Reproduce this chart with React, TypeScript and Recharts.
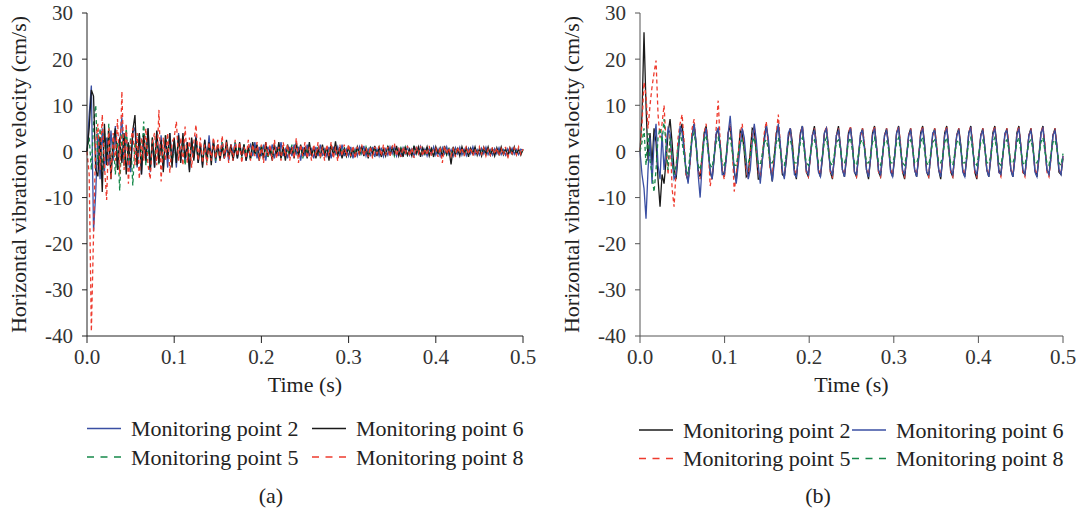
import { LineChart, Line, XAxis, YAxis } from "recharts";

// time axis, shared by both panels
const X_TICKS = [0, 0.1, 0.2, 0.3, 0.4, 0.5];
const Y_TICKS = [-40, -30, -20, -10, 0, 10, 20, 30];

// sampling step of the digitised records
const A_STEP = 0.0025;
const B_STEP = 0.5 / 211;

// (a) horizontal vibration velocity, cm/s
const A_P2 = [
  0, 8, 14.3, -17.3, -9, 4, -6, 5, -4.3, 3, -3, 4.5, -2, 5.5, -3.5, 2, 7.4, -3, 4, -2.5,
  -4.5, 4, 5.2, -3.5, 3.5, -5, 4, -2.5, 5, -4.5, 2, -3.5, 4.5, -2, 3.5, -4, 3, -3.5, 4, -1.5,
  2.5, -3.5, 4, -2, 3, -2.5, 2, -4, 2.5, -1.5, 3.5, -2.5, 1.5, -3, 2.5, -2, 3.5, -1.5, 2, -2.5,
  1.5, -1, 2, -1.5, 1, -2, 1.5, -0.5, 2, -1.5, 1, -1, 1.5, -2, 0.5, 1.5, -1, 2, -1.5, 1,
  -1, 1.5, -2, 1, -0.5, 1.5, -1.5, 1, -1, 2, -1, 0.5, -1.5, 1, -1, 1.5, -0.5, 1, -2, 1,
  -1, 1.5, -1, 0.5, -1.5, 1, -1, 1.5, -1, 0.5, -1, 1, -1.5, 1, -0.5, 1, -1, 1.5, -1, 0.5,
  -1, 1, -1.5, 0.5, -1, 1, -0.5, 1.2, -1, 0.5, -0.8, 1, -1.2, 0.5, -1, 0.8, -1.1, 0.5, -0.8, 1,
  -0.5, 1, -1, 0.5, -1.2, 0.8, -0.5, 1, -0.8, 0.5, -1, 0.8, -0.5, 1.1, -0.8, 0.5, -1, 0.7, -0.5, 1,
  -0.8, 0.5, -1, 0.8, -0.5, 1, -0.7, 0.4, -1, 0.8, -0.5, 0.9, -0.8, 0.5, -0.9, 0.7, -0.5, 1, -0.7, 0.4,
  -0.8, 0.7, -0.5, 0.9, -0.7, 0.4, -0.8, 0.6, -0.5, 0.8, -0.7, 0.4, -0.8, 0.6, -0.4, 0.7, -0.6, 0.4, -0.7, 0.5,
  0.2,
];
const A_P5 = [
  0, 3, -4, 6, 10, -3, 5, -5, 4, -2, 6, -4, 3, -5, 2, -8.5, 4, -3, 5, -2,
  3, -7.4, 2, -3, 4, -2, 6.5, -3, 2, -4, 3, -1.5, 2.5, -3, 2, -2, 3.5, -1, 2, -2.5,
  1.5, -2, 2.5, -1, 2, -3, 1.5, -1.5, 2, -1, 2.5, -2, 1, -1.5, 2, -2.5, 1, -1, 1.5, -2,
  1, -1.5, 2, -1, 1.5, -1, 0.5, -1.5, 2, -1, 1, -1.5, 1.5, -0.5, 1, -2, 1.5, -1, 1, -1.5,
  1.5, -1, 0.5, -1.5, 1, -1, 1.5, -0.5, 1, -1.5, 1, -1, 0.5, -1, 1.5, -1, 1, -0.5, 1, -1.5,
  1, -0.5, 1.5, -1, 0.5, -1, 1, -1.5, 1, -0.5, 1, -1, 1.5, -1, 0.5, -1, 1, -0.5, 1, -1,
  0.5, -1, 1, -0.5, 0.8, -1, 0.5, -0.8, 1, -0.5, 0.8, -1, 0.6, -0.5, 1, -0.8, 0.5, -0.6, 1, -0.5,
  0.8, -1, 0.5, -0.6, 0.8, -0.5, 1, -0.8, 0.4, -0.6, 1, -0.5, 0.6, -0.8, 0.5, -0.6, 0.9, -0.4, 0.6, -0.8,
  0.5, -0.6, 0.8, -0.4, 0.6, -0.8, 0.5, -0.6, 0.7, -0.4, 0.8, -0.5, 0.4, -0.7, 0.6, -0.5, 0.8, -0.4, 0.5, -0.6,
  0.7, -0.4, 0.5, -0.7, 0.6, -0.4, 0.8, -0.5, 0.4, -0.6, 0.7, -0.4, 0.5, -0.6, 0.4, -0.5, 0.7, -0.4, 0.5, -0.6,
  0.3,
];
const A_P6 = [
  0, 5, 13.3, 12, -4, -5.4, 3, -8.8, 6, -3, 4.5, -6, 2, 5, -4, 3, -2.5, 4, -5, 2,
  -3.5, 4.5, 7.9, -3, 4, -5, 3.5, -2, 5, -4, 3, -3.5, 4.5, -2.5, 2.5, -4.5, 3.5, -1.5, 4, -3.5,
  3, -2.5, 3.5, -2.5, 4, -1.5, 2, -4.5, 3, -2, 3, -2.5, 1.5, -3.5, 2.5, -1.5, 2, -3, 2.5, -1.5,
  1.5, -2, 1, -1.5, 2.5, -1, 1.5, -2, 1, -1.5, 2, -1, 1.5, -2, 1, -1.5, 2, -0.5, 1.5, -2,
  1, -1.5, 2, -1, 0.5, -2, 1.5, -1, 2, -1.5, 1, -2, 1.5, -0.5, 1, -1.5, 2, -1, 1.5, -1,
  1, -1.5, 2, -1, 1, -1.5, 0.5, -1, 1.5, -1, 1, -2, 1.5, -1, 2.2, -1, 1, -1.5, 0.5, -1,
  1.2, -1, 0.5, -1.2, 1, -0.5, 1.2, -1, 0.8, -1.5, 1, -0.5, 1.2, -1, 0.8, -1.2, 0.5, -1, 1.2, -0.8,
  1, -0.5, 1.2, -1, 0.5, -1.2, 1, -0.8, 0.5, -1, 1.2, -0.5, 1, -1.2, 0.8, -0.5, 1, -1, 0.6, -1.2,
  1, -0.5, 0.8, -1, 1.2, -0.6, 0.5, -2.8, 1, -0.8, 0.6, -1, 1, -0.5, 0.8, -1.2, 0.7, -0.5, 1, -0.8,
  0.6, -1, 0.9, -0.5, 1, -0.8, 0.5, -1, 0.8, -0.6, 1, -0.7, 0.5, -0.9, 0.8, -0.5, 1, -0.7, 0.5, -0.8,
  0.5,
];
const A_P8 = [
  0, -5, -39, -18, 2, 6, -4, 8, -3, -10.5, 5, -6, 4, -2, 7, -5, 13, -4, 6, -7,
  2, 5, -3, 4, -6, 3, -2, 5, -3, -6, 2, 4, -3, 9, -6.5, 3, -2, 4, -4.6, 2,
  3, 6.5, -2, 3, -3, 5.4, -2.5, 3, -3.5, 2, 5.8, -2, 3, -2.5, 1.5, -3, 2, -2, 3, -1.5,
  2.5, -2, 3.4, -1.5, 2, -2.5, 1.5, -2, 2.5, -1, 2, -2.5, 1, -1.5, 2.5, -2, 1.5, -1, 2, -2,
  1.5, -2.5, 2, -1, 1.5, -2, 2.5, -1.5, 1, -2, 2, -1, 1.5, -2, 1, -1.5, 2.9, -2.5, 1.5, -1,
  2, -1.5, 1, -2, 1.5, -1, 2, -1.5, 1, -2, 1.5, -1, 2, -1.5, 1, -2.1, 1.5, -1, 1.5, -1,
  1.5, -1, 1.2, -1.5, 1, -0.8, 1.5, -1, 0.8, -1.2, 1, -1.5, 1, -0.5, 1.2, -1, 1.5, -0.8, 1, -1.2,
  1, 1.8, -1, 0.8, -1.2, 1, -0.6, 1.2, -1, 0.8, -1.4, 1, -0.5, 1.2, -1, 0.6, -0.8, 1.2, -1, 0.5,
  0.8, -1.2, 1, -2.5, 1.2, -0.6, 0.8, -1, 0.6, -1.2, 1, -0.5, 0.8, -1, 1.2, -0.6, 0.8, -1, 0.5, -0.8,
  1, -0.6, 0.8, -1, 0.5, -0.8, 1, -0.6, 0.8, -1, 0.6, -0.8, 1, -1.6, 0.7, -0.5, 0.8, -0.7, 1, -0.6,
  0.5,
];

// (b) horizontal vibration velocity, cm/s
const B_P2 = [
  0, 8, 25.8, 10, -2, 4, -3, 5, 2, -6, -12, -5,
  -7, -2, 4, 7, 2, -4, -6, -1, 4.5, 6, 1, -5,
  -6.5, -2, 3.5, 6, 1.5, -4, -5.5, -1, 4, 5.5, 1, -4.5,
  -6, -1.5, 3.5, 5, 1.5, -4, -5.5, -1, 4, 5.5, 1, -4.5,
  -6.5, -1, 4.5, 4, 0, -5.5, -5, 0, 5, 4.5, -0.5, -6,
  -6, -2, 3, 6, 2, -3.5, -6.5, -1, 4, 5.5, 1, -5,
  -5.5, -2, 3, 5, 2, -4, -6, -1, 4, 5.5, 0.5, -4.5,
  -5.5, -1, 3.5, 5.5, 1.5, -4, -5.5, -1.5, 4, 5, 1, -4.5,
  -6, -1, 3.5, 5.5, 1, -4, -5.5, -1.5, 4, 5.2, 1.5, -4.5,
  -5.5, -1, 3.5, 5, 1, -4, -6, -1.5, 4, 5.5, 1, -4.5,
  -5.5, -1, 3.5, 5, 1.5, -4, -5.5, -1.5, 4, 5.5, 1, -4.5,
  -6, -1, 3.5, 5, 1, -4, -5.5, -1.5, 4, 5.5, 1.5, -4.5,
  -5.5, -1, 3.5, 5, 1, -4, -6, -1.5, 4, 5.5, 1, -4.5,
  -5.5, -1, 3.5, 5, 1.5, -4, -5.5, -1.5, 4, 5.5, 1, -4.5,
  -6, -1, 3.5, 5, 1, -4, -5.5, -1.5, 4, 5.5, 1.5, -4,
  -5, -1, 3.5, 5, 1, -4, -5.5, -1.5, 4, 5.5, 1, -4.5,
  -5, -1, 3.5, 5, 1.5, -4, -5.5, -1.5, 4, 5.5, 1, -4,
  -5, -1, 3.5, 5, 1, -4.5, -5, -1.5,
];
const B_P5 = [
  0, 6, 15, 12, 5, 10, 14, 17, 19.7, 8, 3, 6,
  10, 2, -5, 4, -8, -12, -4, 3, 6, 8, 2, -5,
  -6, -3, 5, 7, 1, -4, -6, -1, 4, 6, 1, -7.5,
  -5, -1, 5, 11, 2, -4, -6, -2, 4, 6, 1, -8.7,
  -5, -1, 4, 6, 1, -4, -6, -1, 3.5, 5.5, 1, -4.5,
  -5.5, -1.5, 4, 6.5, 1, -4, -5, -1, 4, 8, 1.5, -4.5,
  -5.5, -1, 3.5, 5, 1, -4, -5, -1.5, 4, 5.5, 1, -4.5,
  -5.5, -1, 3.5, 5, 1.5, -4, -5, -1, 4, 5.5, 1, -4.5,
  -5.5, -1.5, 3.5, 5, 1, -4, -5, -1, 4, 5.5, 1, -4.5,
  -5.5, -1, 3.5, 5, 1.5, -4, -5, -1.5, 4, 5.5, 1, -4.5,
  -5.5, -1, 3.5, 5, 1, -4, -5, -1, 4, 5.5, 1.5, -4.5,
  -5.5, -1.5, 3.5, 5, 1, -4, -5, -1, 4, 5.5, 1, -4.5,
  -5.5, -1, 3.5, 5, 1.5, -4, -5, -1.5, 4, 5.5, 1, -4.5,
  -5.5, -1, 3.5, 5, 1, -4, -5, -1, 4, 5.5, 1.5, -4.5,
  -5.5, -1.5, 3.5, 5, 1, -4, -5, -1, 4, 5.5, 1, -4.5,
  -5.5, -1, 3.5, 5, 1.5, -4, -5, -1.5, 4, 5.5, 1, -4.5,
  -5.5, -1, 3.5, 5, 1, -4, -5, -1, 4, 5.5, 1.5, -4.5,
  -5.5, -1.5, 3.5, 5, 1, -4, -5, -1,
];
const B_P6 = [
  0, -5, -8, -14.6, -4, 3, -7, 2, 6, -3, -6, 4,
  -4, 1, 5, 4, -2, -6, -5, 0, 5.5, 4, 0, -4,
  -7, -2, 3, 6, 2, -5, -10, -3, 3, 5, 0, -4,
  -6, -1, 4, 5, 1, -5, -5, -2, 4, 7.7, 2, -4,
  -7, -3, 1, 5, 3, -2, -6, -4, 2, 6, 2.5, -3,
  -7, -2, 2, 5.5, 3, -3, -6.5, -2.5, 3, 6, 1.5, -4,
  -6, -1, 4, 5, 0, -5, -5.5, -1.5, 3.5, 5.5, 1, -4,
  -5, -1, 3.5, 4.5, 1, -4.5, -5.5, -1, 4, 5, 0.5, -4,
  -5, -1.5, 3.5, 4.5, 1, -4, -5.5, -1, 3.5, 5, 1, -4.5,
  -5, -1, 4, 4.5, 0.5, -4, -5.5, -1.5, 3.5, 5, 1, -4,
  -5, -1, 3.5, 4.5, 1, -4.5, -5.5, -1, 4, 5, 0.5, -4,
  -5, -1.5, 3.5, 4.5, 1, -4, -5.5, -1, 3.5, 5, 1, -4.5,
  -5, -1, 4, 4.5, 0.5, -4, -5.5, -1.5, 3.5, 5, 1, -4,
  -5, -1, 3.5, 4.5, 1, -4.5, -5.5, -1, 4, 5, 0.5, -4,
  -5, -1.5, 3.5, 4.5, 1, -4, -5.5, -1, 3.5, 5, 1, -4.5,
  -5, -1, 4, 4.5, 0.5, -4, -5.5, -1.5, 3.5, 5, 1, -4,
  -5, -1, 3.5, 4.5, 1, -4.5, -5.5, -1, 4, 5, 0.5, -4,
  -5, -1.5, 3.5, 4.5, 1, -4, -5, -1,
];
const B_P8 = [
  0, 2, 5, -3, 4, -2, -5, -8.8, -4, 3, 5, 2,
  7, 1, -4, 3, -2, -5, -3, 1, 4, 2, -1, -4,
  -5, 0, 3, 4, 1, -3, -4, -1, 2.5, 3.5, 0, -3,
  -3.5, -0.5, 2, 3, 0.5, -2.5, -3, -1, 2.5, 3, 0, -3,
  -3, -0.5, 2, 2.5, 0.5, -2.5, -2.5, -1, 2, 3, 0, -2.5,
  -3, -0.5, 2, 2.5, 0.5, -2.5, -2.5, -1, 2, 3, 0, -2.5,
  -3, -0.5, 2, 2.5, 0.5, -2.5, -2.5, -1, 2, 3, 0, -2.5,
  -3, -0.5, 2, 2.5, 0.5, -2.5, -2.5, -1, 2, 3, 0, -2.5,
  -3, -0.5, 2, 2.5, 0.5, -2.5, -2.5, -1, 2, 3, 0, -2.5,
  -3, -0.5, 2, 2.5, 0.5, -2.5, -2.5, -1, 2, 3, 0, -2.5,
  -3, -0.5, 2, 2.5, 0.5, -2.5, -2.5, -1, 2, 3, 0, -2.5,
  -3, -0.5, 2, 2.5, 0.5, -2.5, -2.5, -1, 2, 3, 0, -2.5,
  -3, -0.5, 2, 2.5, 0.5, -2.5, -2.5, -1, 2, 3, 0, -2.5,
  -3, -0.5, 2, 2.5, 0.5, -2.5, -2.5, -1, 2, 3, 0, -2.5,
  -3, -0.5, 2, 2.5, 0.5, -2.5, -2.5, -1, 2, 3, 0, -2.5,
  -3, -0.5, 2, 2.5, 0.5, -2.5, -2.5, -1, 2, 3, 0, -2.5,
  -3, -0.5, 2, 2.5, 0.5, -2.5, -2.5, -1, 2, 3, 0, -2.5,
  -3, -0.5, 2, 2.5, 0.5, -2.5, -3, -0.5,
];

const FONT = "Liberation Serif, DejaVu Serif, serif";
const BLUE = "#3a4fa3";
const BLACK = "#1a1a1a";
const GREEN = "#16894a";
const RED = "#ee3b2e";

interface SeriesDef {
  key: string;
  name: string;
  color: string;
  dashed: boolean;
}

const A_SERIES: SeriesDef[] = [
  { key: "p2", name: "Monitoring point 2", color: BLUE, dashed: false },
  { key: "p5", name: "Monitoring point 5", color: GREEN, dashed: true },
  { key: "p6", name: "Monitoring point 6", color: BLACK, dashed: false },
  { key: "p8", name: "Monitoring point 8", color: RED, dashed: true },
];
const B_SERIES: SeriesDef[] = [
  { key: "p2", name: "Monitoring point 2", color: BLACK, dashed: false },
  { key: "p5", name: "Monitoring point 5", color: RED, dashed: true },
  { key: "p6", name: "Monitoring point 6", color: BLUE, dashed: false },
  { key: "p8", name: "Monitoring point 8", color: GREEN, dashed: true },
];

function buildRows(step: number, cols: Record<string, number[]>) {
  const n = Math.max(...Object.values(cols).map((c) => c.length));
  return Array.from({ length: n }, (_, i) => {
    const row: Record<string, number | null> = { t: +(i * step).toFixed(6) };
    for (const k of Object.keys(cols)) row[k] = cols[k][i] ?? null;
    return row;
  });
}

const A_ROWS = buildRows(A_STEP, { p2: A_P2, p5: A_P5, p6: A_P6, p8: A_P8 });
const B_ROWS = buildRows(B_STEP, { p2: B_P2, p5: B_P5, p6: B_P6, p8: B_P8 });

const tickStyle = { fontSize: 21, fill: "#333", fontFamily: FONT };
const titleStyle = { fontSize: 22, fill: "#222", fontFamily: FONT };

interface PanelProps {
  left: number;
  width: number;
  right: number;
  rows: Record<string, number | null>[];
  series: SeriesDef[];
  axisColor: string;
}

function Panel({ left, width, right, rows, series, axisColor }: PanelProps) {
  return (
    <div style={{ position: "absolute", left, top: 0 }}>
      <LineChart width={width} height={400} data={rows} margin={{ top: 13, right, bottom: 0, left: 0 }}>
        <XAxis
          dataKey="t"
          type="number"
          domain={[0, 0.5]}
          ticks={X_TICKS}
          interval={0}
          tickFormatter={(v: number) => v.toFixed(1)}
          stroke={axisColor}
          tickSize={7}
          tickMargin={6}
          height={64}
          tick={tickStyle}
          label={{ value: "Time (s)", position: "insideBottom", offset: 8, style: titleStyle }}
        />
        <XAxis
          xAxisId="top"
          orientation="top"
          type="number"
          domain={[0, 0.5]}
          tick={false}
          tickLine={false}
          height={0}
          stroke={axisColor}
        />
        <YAxis
          type="number"
          domain={[-40, 30]}
          ticks={Y_TICKS}
          interval={0}
          width={87}
          stroke={axisColor}
          tickSize={5}
          tickMargin={9}
          tick={tickStyle}
          label={{
            value: "Horizontal vibration velocity (cm/s)",
            angle: -90,
            position: "insideLeft",
            offset: 18,
            style: { ...titleStyle, textAnchor: "middle" },
          }}
        />
        <YAxis
          yAxisId="right"
          orientation="right"
          type="number"
          domain={[-40, 30]}
          tick={false}
          tickLine={false}
          width={0}
          stroke={axisColor}
        />
        {series.map((s) => (
          <Line
            key={s.key}
            type="linear"
            dataKey={s.key}
            name={s.name}
            stroke={s.color}
            strokeWidth={1.3}
            strokeDasharray={s.dashed ? "4 3" : undefined}
            dot={false}
            isAnimationActive={false}
          />
        ))}
      </LineChart>
    </div>
  );
}

// legend entries laid out in two rows under each panel
interface LegendSlot {
  s: SeriesDef;
  x: number;
  y: number;
}

function LegendOverlay({ slots }: { slots: LegendSlot[] }) {
  return (
    <>
      {slots.map(({ s, x, y }) => (
        <g key={s.key + x}>
          <line
            x1={x}
            x2={x + 34}
            y1={y}
            y2={y}
            stroke={s.color}
            strokeWidth={1.3}
            strokeDasharray={s.dashed ? "7 6.5" : undefined}
          />
          <text x={x + 44} y={y + 7.5} fontSize={22} fontFamily={FONT} fill="#222">
            {s.name}
          </text>
        </g>
      ))}
    </>
  );
}

export default function App() {
  const [a2, a5, a6, a8] = A_SERIES;
  const [b2, b5, b6, b8] = B_SERIES;
  return (
    <div
      style={{
        position: "absolute",
        left: 0,
        top: 0,
        width: 1076,
        height: 515,
        background: "#fff",
        fontFamily: FONT,
      }}
    >
      <Panel left={0} width={540} right={17} rows={A_ROWS} series={A_SERIES} axisColor="#222" />
      <Panel left={553} width={523} right={13} rows={B_ROWS} series={B_SERIES} axisColor="#555" />
      <svg width={1076} height={515} style={{ position: "absolute", left: 0, top: 0, pointerEvents: "none" }}>
        <LegendOverlay
          slots={[
            { s: a2, x: 87, y: 428.5 },
            { s: a6, x: 312, y: 428.5 },
            { s: a5, x: 87, y: 457 },
            { s: a8, x: 312, y: 457 },
            { s: b2, x: 639, y: 430 },
            { s: b6, x: 852, y: 430 },
            { s: b5, x: 639, y: 458.5 },
            { s: b8, x: 852, y: 458.5 },
          ]}
        />
        <text x={271} y={503} fontSize={22} fontFamily={FONT} fill="#222" textAnchor="middle">
          (a)
        </text>
        <text x={818} y={503} fontSize={22} fontFamily={FONT} fill="#222" textAnchor="middle">
          (b)
        </text>
      </svg>
    </div>
  );
}
